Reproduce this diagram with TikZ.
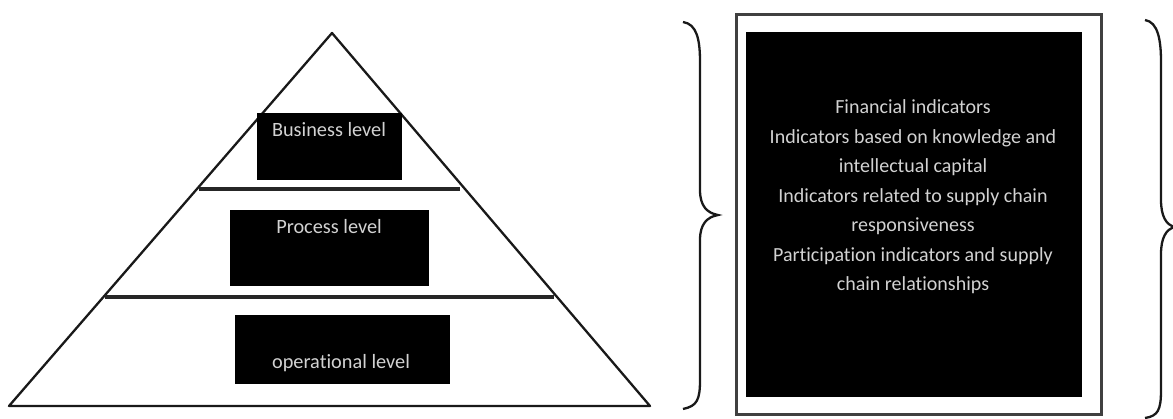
\documentclass[tikz,border=0pt]{standalone}
\usepackage{fontspec}
\setmainfont[Ligatures=NoCommon]{Carlito}
\definecolor{lbltext}{RGB}{210,210,210}
\begin{document}
\begin{tikzpicture}[x=1pt,y=-1pt,
  pyr/.style={line width=2.3pt,black!90,line join=round},
  sep/.style={line width=3.2pt,black!85},
  blackbox/.style={fill=black,draw=none,inner sep=0pt,anchor=north west},
  lbl/.style={text=lbltext,font=\fontsize{20.3}{29.5}\selectfont,align=center,inner sep=0pt},
  frame/.style={draw=black!75,line width=2.6pt,fill=white},
  brace/.style={line width=2.3pt,black!90}]
\useasboundingbox (0,0) rectangle (1173,418);
% pyramid
\coordinate (apex) at (332,33);
\coordinate (bl) at (9,406);
\coordinate (br) at (650,406);
\draw[pyr] (bl) -- (apex) -- (br) -- cycle;
\coordinate (s1l) at (199,189);
\coordinate (s1r) at (460,189);
\coordinate (s2l) at (105,297);
\coordinate (s2r) at (554,297);
\draw[sep] (s1l) -- (s1r);
\draw[sep] (s2l) -- (s2r);
% level boxes
\node[blackbox,minimum width=145pt,minimum height=67pt] (bus) at (257,113) {};
\node[lbl] (buslbl) at (329,130) {Business level};
\node[blackbox,minimum width=199pt,minimum height=76pt] (proc) at (230,210) {};
\node[lbl] (proclbl) at (329,227) {Process level};
\node[blackbox,minimum width=215pt,minimum height=69pt] (oper) at (235,315) {};
\node[lbl] (operlbl) at (341,363) {operational level};
% left brace
\draw[brace] (683,22) .. controls (697,24) and (700,40) .. (700,62) -- (700,190)
  .. controls (700,206) and (707,213) .. (718,215)
  .. controls (707,217) and (700,224) .. (700,240) -- (700,380)
  .. controls (700,400) and (697,406) .. (683,409);
% indicator box
\node[frame,minimum width=365pt,minimum height=400pt,anchor=north west,inner sep=0pt] (outer) at (735,13) {};
\node[blackbox,minimum width=336pt,minimum height=365pt] (ind) at (746,32) {};
\node[lbl,font=\fontsize{20}{29.5}\selectfont] (indlbl) at (913,197) {Financial indicators\\Indicators based on knowledge and\\intellectual capital\\Indicators related to supply chain\\responsiveness\\Participation indicators and supply\\chain relationships};
% right brace
\draw[brace] (1145,20) .. controls (1158,22) and (1161,40) .. (1161,62) -- (1161,200)
  .. controls (1161,216) and (1166,225) .. (1175,227)
  .. controls (1166,229) and (1161,238) .. (1161,254) -- (1161,390)
  .. controls (1161,410) and (1158,416) .. (1145,418);
\end{tikzpicture}
\end{document}
